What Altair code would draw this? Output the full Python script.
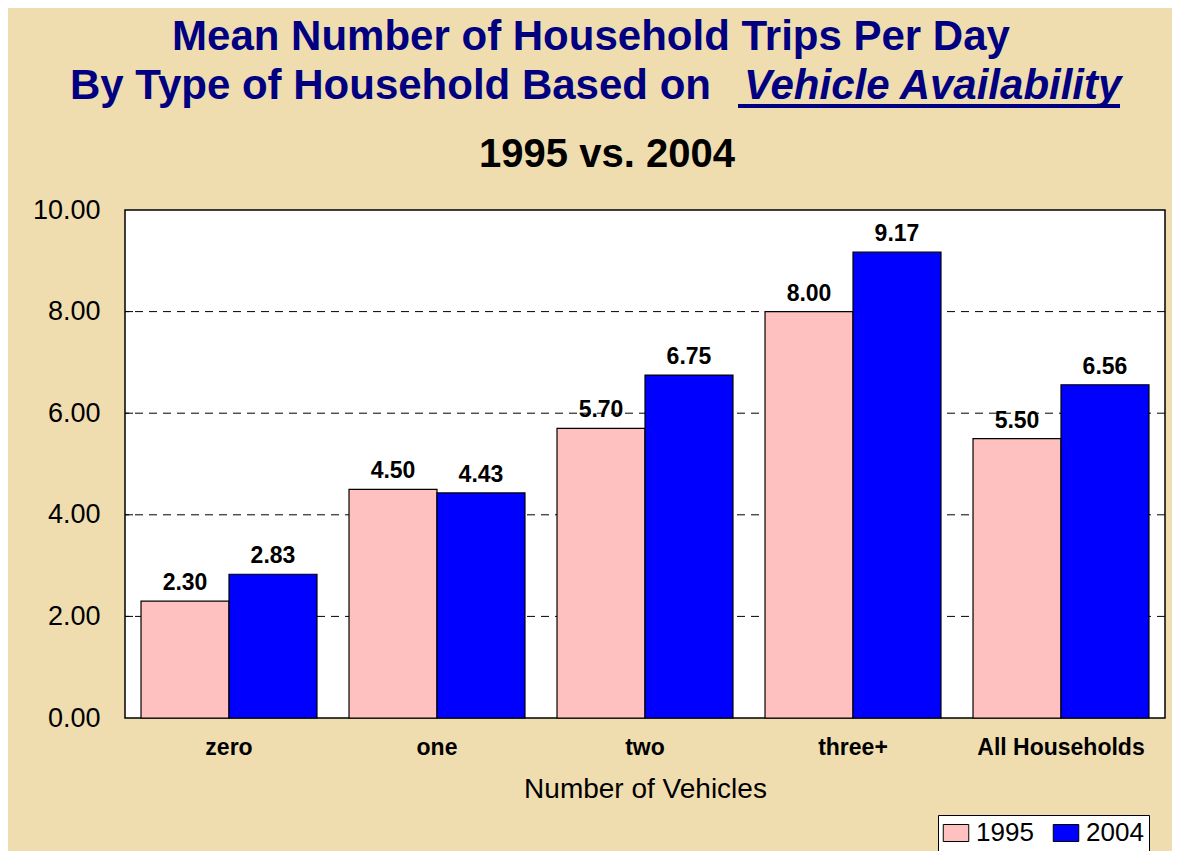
import altair as alt
import pandas as pd

categories = ["zero", "one", "two", "three+", "All Households"]
years = ["1995", "2004"]
values_1995 = [2.30, 4.50, 5.70, 8.00, 5.50]
values_2004 = [2.83, 4.43, 6.75, 9.17, 6.56]
y_ticks = [0, 2, 4, 6, 8, 10]
grid_values = [2, 4, 6, 8]

rows = []
for c, a, b in zip(categories, values_1995, values_2004):
    rows.append({"cat": c, "year": "1995", "val": a})
    rows.append({"cat": c, "year": "2004", "val": b})
df = pd.DataFrame(rows)

FONT = "Liberation Sans"
W, H = 1040, 508

x_enc = alt.X("cat:N", sort=categories,
              scale=alt.Scale(paddingInner=0.154, paddingOuter=0.077),
              axis=alt.Axis(title="Number of Vehicles", labelAngle=0, ticks=False, domain=False,
                            labelFont=FONT, labelFontSize=23, labelFontWeight="bold",
                            labelColor="black", labelPadding=18,
                            titleFont=FONT, titleFontSize=28, titleFontWeight="normal",
                            titleColor="black", titlePadding=16))
y_enc = alt.Y("val:Q", scale=alt.Scale(domain=[0, 10], nice=False),
              axis=alt.Axis(title=None, values=y_ticks, format=".2f", ticks=False, domain=False,
                            grid=False, labelFont=FONT, labelFontSize=27, labelColor="black",
                            labelPadding=25))

base = alt.Chart(df)

grid = alt.Chart(pd.DataFrame({"g": grid_values})).mark_rule(
    color="black", strokeDash=[8, 6], strokeWidth=1
).encode(y=alt.Y("g:Q", scale=alt.Scale(domain=[0, 10], nice=False)))

ticks_in = alt.Chart(pd.DataFrame({"g": grid_values})).mark_rule(
    color="black", strokeWidth=1
).encode(y=alt.Y("g:Q"), x=alt.value(0), x2=alt.value(8))

bars = base.mark_bar(stroke="black", strokeWidth=1.2).encode(
    x=x_enc,
    xOffset=alt.XOffset("year:N", sort=years),
    y=y_enc,
    color=alt.Color("year:N", scale=alt.Scale(domain=years, range=["#FFC0C0", "#0000FF"]),
                    legend=alt.Legend(title=None, orient="none", legendX=813, legendY=605,
                                      direction="horizontal", columns=2, fillColor="white",
                                      strokeColor="black", padding=5, columnPadding=17,
                                      symbolType="M-1.5,-1H1.5V1H-1.5Z", symbolSize=289,
                                      symbolStrokeColor="black", symbolStrokeWidth=1,
                                      symbolOpacity=1, labelFont=FONT, labelFontSize=26,
                                      labelColor="black", labelOffset=7)),
)

labels = base.mark_text(font=FONT, fontSize=23, fontWeight="bold", color="black",
                        baseline="alphabetic", dy=-11).encode(
    x=alt.X("cat:N", sort=categories),
    xOffset=alt.XOffset("year:N", sort=years),
    y="val:Q",
    text=alt.Text("val:Q", format=".2f"),
)

one = pd.DataFrame({"k": [0]})
NAVY = "#000080"
t1 = alt.Chart(one).mark_text(text="Mean Number of Household Trips Per Day", font=FONT,
                              fontSize=42, fontWeight="bold", color=NAVY, align="center",
                              baseline="alphabetic").encode(x=alt.value(466), y=alt.value(-160))
t2 = alt.Chart(one).mark_text(text="By Type of Household Based on", font=FONT,
                              fontSize=42, fontWeight="bold", color=NAVY, align="left",
                              baseline="alphabetic").encode(x=alt.value(-55), y=alt.value(-111))
t3 = alt.Chart(one).mark_text(text="Vehicle Availability", font=FONT, fontSize=42,
                              fontWeight="bold", fontStyle="italic", color=NAVY, align="left",
                              baseline="alphabetic").encode(x=alt.value(619), y=alt.value(-111))
uline = alt.Chart(one).mark_rule(color=NAVY, strokeWidth=4).encode(
    x=alt.value(613), x2=alt.value(995), y=alt.value(-104))
sub = alt.Chart(one).mark_text(text="1995 vs. 2004", font=FONT, fontSize=40, fontWeight="bold",
                               color="black", align="center", baseline="alphabetic").encode(
    x=alt.value(482), y=alt.value(-43))

chart = alt.layer(grid, ticks_in, bars, labels, t1, t2, t3, uline, sub).properties(
    width=W, height=H,
    autosize=alt.AutoSizeParams(type="none"),
    padding={"left": 117, "top": 202, "right": 7, "bottom": 133},
    background="#EFDDB0",
).configure_view(fill="white", stroke="black", strokeWidth=1.5)

chart.save("out.html", embed_options={"renderer": "svg", "actions": False})
